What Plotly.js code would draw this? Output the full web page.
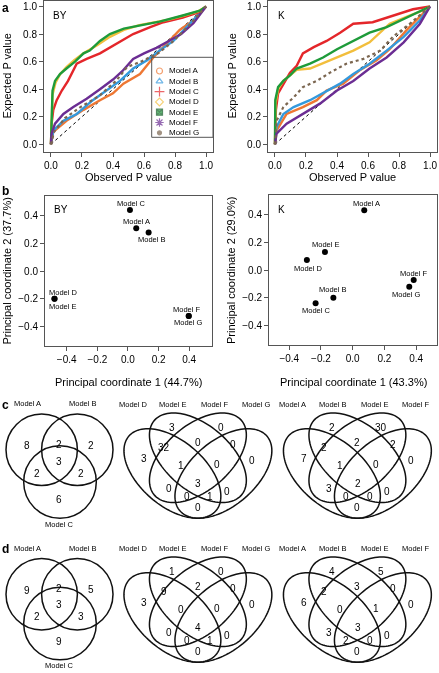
<!DOCTYPE html>
<html><head><meta charset="utf-8">
<script src="https://cdn.plot.ly/plotly-3.0.1.min.js"></script>
<style>body{margin:0;background:#fff}#chart{width:439px;height:673px}
#chart .main-svg{will-change:transform}</style>
</head><body><div id="chart"></div>
<script>
// ---------- DATA ----------
const models = ['Model A','Model B','Model C','Model D','Model E','Model F','Model G'];
const modelColors = ['#EE7733','#3399DD','#E4262A','#F2BE3C','#1E9B3A','#6B2D93','#7B6650'];
const modelSymbols = ['circle-open','triangle-up-open','cross-thin-open','diamond-open','square-x','asterisk-open','circle'];

// panel a, BY: observed / expected P values
const byObsA = [0, 0.015, 0.10, 0.21, 0.316, 0.40, 0.467, 0.574, 0.66, 0.746, 0.83, 0.92, 1.0];
const byExpA = [0, 0.09, 0.17, 0.25, 0.32, 0.37, 0.44, 0.51, 0.63, 0.73, 0.83, 0.90, 1.0];
const byObsB = [0, 0.015, 0.08, 0.166, 0.27, 0.36, 0.445, 0.53, 0.62, 0.70, 0.79, 0.875, 1.0];
const byExpB = [0, 0.10, 0.17, 0.22, 0.32, 0.39, 0.46, 0.55, 0.61, 0.68, 0.75, 0.85, 1.0];
const byObsC = [0, 0.004, 0.015, 0.037, 0.07, 0.11, 0.166, 0.23, 0.316, 0.42, 0.53, 0.64, 0.725, 0.85, 0.96, 1.0];
const byExpC = [0, 0.15, 0.25, 0.32, 0.39, 0.46, 0.585, 0.62, 0.66, 0.73, 0.80, 0.85, 0.886, 0.92, 0.96, 1.0];
const byObsD = [0, 0.004, 0.01, 0.03, 0.06, 0.10, 0.15, 0.21, 0.30, 0.38, 0.47, 0.57, 0.66, 0.76, 0.86, 0.95, 1.0];
const byExpD = [0, 0.22, 0.36, 0.45, 0.51, 0.56, 0.61, 0.66, 0.72, 0.78, 0.83, 0.865, 0.885, 0.905, 0.935, 0.965, 1.0];
const byObsE = [0, 0.002, 0.004, 0.01, 0.026, 0.058, 0.10, 0.155, 0.21, 0.25, 0.316, 0.38, 0.47, 0.57, 0.70, 0.85, 0.96, 1.0];
const byExpE = [0, 0.15, 0.25, 0.39, 0.46, 0.51, 0.55, 0.60, 0.66, 0.68, 0.75, 0.80, 0.84, 0.86, 0.89, 0.935, 0.97, 1.0];
const byObsF = [0, 0.004, 0.026, 0.08, 0.144, 0.23, 0.316, 0.40, 0.46, 0.53, 0.60, 0.68, 0.76, 0.84, 0.92, 1.0];
const byExpF = [0, 0.077, 0.15, 0.22, 0.27, 0.33, 0.40, 0.47, 0.53, 0.62, 0.66, 0.70, 0.75, 0.80, 0.88, 1.0];
const byObsG = [0, 0.02, 0.09, 0.19, 0.31, 0.42, 0.49, 0.58, 0.69, 0.78, 0.88, 1.0];
const byExpG = [0, 0.09, 0.19, 0.27, 0.35, 0.46, 0.56, 0.60, 0.66, 0.74, 0.85, 1.0];

// panel a, K
const kObsA = [0, 0.01, 0.075, 0.18, 0.27, 0.333, 0.44, 0.55, 0.656, 0.74, 0.85, 1.0];
const kExpA = [0, 0.10, 0.22, 0.27, 0.32, 0.39, 0.44, 0.54, 0.61, 0.69, 0.83, 1.0];
const kObsB = [0, 0.01, 0.054, 0.12, 0.226, 0.31, 0.42, 0.505, 0.61, 0.72, 0.83, 0.935, 1.0];
const kExpB = [0, 0.125, 0.22, 0.27, 0.32, 0.37, 0.44, 0.51, 0.585, 0.68, 0.78, 0.90, 1.0];
const kObsC = [0, 0.006, 0.02, 0.054, 0.097, 0.14, 0.18, 0.25, 0.333, 0.42, 0.505, 0.63, 0.76, 0.89, 1.0];
const kExpC = [0, 0.25, 0.37, 0.44, 0.52, 0.57, 0.66, 0.705, 0.75, 0.81, 0.875, 0.886, 0.935, 0.98, 1.0];
const kObsD = [0, 0.004, 0.02, 0.054, 0.097, 0.14, 0.226, 0.355, 0.505, 0.61, 0.74, 0.86, 0.95, 1.0];
const kExpD = [0, 0.30, 0.40, 0.46, 0.50, 0.54, 0.55, 0.61, 0.68, 0.74, 0.875, 0.93, 0.97, 1.0];
const kObsE = [0, 0.002, 0.02, 0.054, 0.097, 0.14, 0.226, 0.31, 0.40, 0.505, 0.61, 0.72, 0.83, 0.935, 1.0];
const kExpE = [0, 0.32, 0.415, 0.46, 0.50, 0.55, 0.585, 0.63, 0.69, 0.75, 0.81, 0.85, 0.91, 0.97, 1.0];
const kObsF = [0, 0.01, 0.075, 0.18, 0.29, 0.40, 0.505, 0.61, 0.72, 0.83, 0.935, 1.0];
const kExpF = [0, 0.077, 0.15, 0.22, 0.295, 0.39, 0.46, 0.55, 0.63, 0.74, 0.875, 1.0];
const kObsG = [0, 0.01, 0.054, 0.12, 0.18, 0.27, 0.355, 0.46, 0.57, 0.68, 0.76, 0.87, 1.0];
const kExpG = [0, 0.17, 0.27, 0.34, 0.415, 0.46, 0.52, 0.585, 0.62, 0.68, 0.78, 0.875, 1.0];

const pTicks = [0, 0.2, 0.4, 0.6, 0.8, 1.0];
const pTickText = ['0.0','0.2','0.4','0.6','0.8','1.0'];

// panel b, principal coordinates
const pcByX = [0.054, 0.135, 0.013, -0.48, -0.48, 0.397, 0.397];
const pcByY = [0.307, 0.278, 0.44, -0.199, -0.199, -0.324, -0.324];
const pcKX = [0.073, -0.122, -0.234, -0.289, -0.175, 0.385, 0.357];
const pcKY = [0.43, -0.199, -0.24, 0.072, 0.13, -0.072, -0.12];
const pcTicks = [-0.4, -0.2, 0, 0.2, 0.4];
const pcTickText = ['\u22120.4','\u22120.2','0.0','0.2','0.4'];

// panels c, d: Venn counts
const vennSetsABC = ['Model A','Model B','Model C'];
const vennSetsDEFG = ['Model D','Model E','Model F','Model G'];
const vennSetsABEF = ['Model A','Model B','Model E','Model F'];
// 3-set order: A only, A&B, B only, A&B&C, A&C, B&C, C only
const vennC3 = [8, 2, 2, 3, 2, 2, 6];
const vennD3 = [9, 2, 5, 3, 2, 3, 9];
// 4-set region order (sets 1..4 left to right): 1, 2, 3, 4, 12, 23, 34, 123, 234, 1234, lower pieces, bottom
const vennC_DEFG = [3, 3, 0, 0, 32, 0, 0, 1, 0, 3, 0, 0, 0, 1, 0];
const vennC_ABEF = [7, 2, 30, 0, 2, 2, 2, 1, 0, 2, 3, 0, 0, 0, 0];
const vennD_DEFG = [3, 1, 0, 0, 9, 2, 0, 0, 0, 4, 0, 0, 0, 1, 0];
const vennD_ABEF = [6, 4, 5, 0, 2, 3, 0, 0, 1, 3, 3, 0, 2, 0, 0];

// ---------- LAYOUT HELPERS ----------
const W = 439, H = 673;
const PX = p => p / W;
const PY = p => 1 - p / H;
const FONT = 'Liberation Sans, Arial, Helvetica, sans-serif';
const INK = '#000';

const byObs = [byObsA, byObsB, byObsC, byObsD, byObsE, byObsF, byObsG];
const byExp = [byExpA, byExpB, byExpC, byExpD, byExpE, byExpF, byExpG];
const kObs = [kObsA, kObsB, kObsC, kObsD, kObsE, kObsF, kObsG];
const kExp = [kExpA, kExpB, kExpC, kExpD, kExpE, kExpF, kExpG];

const traces = [];
function addQQ(obs, exp, xa, ya) {
  const lo = pTicks[0], hi = pTicks[pTicks.length - 1];
  traces.push({x: [lo, hi], y: [lo, hi], xaxis: xa, yaxis: ya, mode: 'lines',
    line: {color: '#000', width: 1, dash: 'dot'}, showlegend: false, hoverinfo: 'skip'});
  for (let i = 0; i < models.length; i++) {
    traces.push({x: obs[i], y: exp[i], xaxis: xa, yaxis: ya, mode: 'lines', name: models[i],
      line: {color: modelColors[i], width: i === 6 ? 2.2 : 2.4, dash: i === 6 ? 'dot' : 'solid'},
      showlegend: false});
  }
}
addQQ(byObs, byExp, 'x', 'y');
addQQ(kObs, kExp, 'x2', 'y2');

traces.push({x: pcByX, y: pcByY, xaxis: 'x3', yaxis: 'y3', mode: 'markers', text: models,
  marker: {color: '#000', size: 6}, showlegend: false});
traces.push({x: pcKX, y: pcKY, xaxis: 'x4', yaxis: 'y4', mode: 'markers', text: models,
  marker: {color: '#000', size: 6}, showlegend: false});

// manual legend markers (axis x5/y5 in pixel units)
const legTop = 71, legStep = 10.3, legMarkX = 159.5, legTextX = 167.5;
traces.push({x: models.map(() => legMarkX), y: models.map((m, i) => legTop + legStep * i),
  xaxis: 'x5', yaxis: 'y5', mode: 'markers', showlegend: false, hoverinfo: 'skip',
  marker: {symbol: modelSymbols, color: modelColors, size: [6, 6, 7, 6, 6, 7, 4],
    line: {color: modelColors.map((c, i) => i === 4 ? '#0d5a20' : c), width: 1.2}}});

function axis(dom, range, ticks, text) {
  return {domain: dom, range: range, tickvals: ticks, ticktext: text, showline: true, mirror: true,
    linecolor: '#555', linewidth: 1, ticks: 'outside', ticklen: 4, tickcolor: '#555', tickwidth: 1,
    tickfont: {size: 10, color: INK, family: FONT}, showgrid: false, zeroline: false, fixedrange: true,
    automargin: false};
}
const aTop = 1, aBot = 152, bTop = 196, bBot = 346;
const layout = {
  width: W, height: H, margin: {l: 0, r: 0, t: 0, b: 0},
  paper_bgcolor: '#fff', plot_bgcolor: 'rgba(0,0,0,0)', showlegend: false,
  font: {family: FONT, color: INK},
  xaxis: Object.assign(axis([PX(44), PX(213)], [-0.045, 1.045], pTicks, pTickText), {anchor: 'y'}),
  yaxis: Object.assign(axis([PY(aBot), PY(aTop)], [-0.056, 1.04], pTicks, pTickText), {anchor: 'x'}),
  xaxis2: Object.assign(axis([PX(268), PX(437)], [-0.045, 1.045], pTicks, pTickText), {anchor: 'y2'}),
  yaxis2: Object.assign(axis([PY(aBot), PY(aTop)], [-0.056, 1.04], pTicks, pTickText), {anchor: 'x2'}),
  xaxis3: Object.assign(axis([PX(45), PX(212)], [-0.542, 0.549], pcTicks, pcTickText), {anchor: 'y3'}),
  yaxis3: Object.assign(axis([PY(bBot), PY(bTop)], [-0.54, 0.54], pcTicks, pcTickText), {anchor: 'x3'}),
  xaxis4: Object.assign(axis([PX(269), PX(437)], [-0.528, 0.532], pcTicks, pcTickText), {anchor: 'y4'}),
  yaxis4: Object.assign(axis([PY(bBot - 1), PY(bTop - 1)], [-0.54, 0.54], pcTicks, pcTickText), {anchor: 'x4'}),
  xaxis5: {domain: [PX(150), PX(213)], range: [150, 213], visible: false, fixedrange: true, anchor: 'y5'},
  yaxis5: {domain: [PY(137), PY(57)], range: [137, 57], visible: false, fixedrange: true, anchor: 'x5'},
  shapes: [], annotations: []
};

const ann = layout.annotations, shp = layout.shapes;
function txt(x, y, t, size, extra) {
  ann.push(Object.assign({x: PX(x), y: PY(y), xref: 'paper', yref: 'paper', text: t, showarrow: false,
    font: {size: size, color: INK, family: FONT}, xanchor: 'center', yanchor: 'middle', borderpad: 0},
    extra || {}));
}
// panel letters
txt(1, 8, '<b>a</b>', 12, {xanchor: 'left'});
txt(1, 191, '<b>b</b>', 12, {xanchor: 'left'});
txt(1, 405, '<b>c</b>', 12, {xanchor: 'left'});
txt(1, 549, '<b>d</b>', 12, {xanchor: 'left'});
// axis titles
txt(128.5, 177, 'Observed P value', 11);
txt(352.5, 177, 'Observed P value', 11);
txt(6.5, 76, 'Expected P value', 11, {textangle: -90});
txt(231.5, 76, 'Expected P value', 11, {textangle: -90});
txt(128.5, 382, 'Principal coordinate 1 (44.7%)', 11);
txt(353, 382, 'Principal coordinate 1 (43.3%)', 11);
txt(6.5, 271, 'Principal coordinate 2 (37.7%)', 11, {textangle: -90});
txt(231, 271, 'Principal coordinate 2 (29.0%)', 11, {textangle: -90});
// panel tags
txt(52, 15, 'BY', 10, {xanchor: 'left'});
txt(277, 15, 'K', 10, {xanchor: 'left'});
txt(53, 209.5, 'BY', 10, {xanchor: 'left'});
txt(277, 209.5, 'K', 10, {xanchor: 'left'});

// legend box + texts
shp.push({type: 'rect', xref: 'paper', yref: 'paper', x0: PX(151.7), x1: PX(213), y0: PY(137.3), y1: PY(57.3),
  line: {color: '#555', width: 1}});
models.forEach((m, i) => txt(legTextX, legTop + legStep * i, m, 8, {xanchor: 'left'}));

// PCoA labels
const byLab = [[0, -6.7], [3, 7], [1.7, -6.7], [9, -6], [8.4, 8], [-2, -7], [0, 6.7]];
const kLab = [[2.4, -7], [0, -7.7], [1, 6.7], [1.3, 8.3], [1, -7], [0.6, -7], [-2.6, 7.6]];
models.forEach((m, i) => {
  ann.push({x: pcByX[i], y: pcByY[i], xref: 'x3', yref: 'y3', text: m, showarrow: false, borderpad: 0,
    xshift: byLab[i][0], yshift: -byLab[i][1], font: {size: 7.5, color: INK, family: FONT}});
  ann.push({x: pcKX[i], y: pcKY[i], xref: 'x4', yref: 'y4', text: m, showarrow: false, borderpad: 0,
    xshift: kLab[i][0], yshift: -kLab[i][1], font: {size: 7.5, color: INK, family: FONT}});
});

// ---------- VENN 3 ----------
const venn3Pos = [[26.7, 445.7], [59.3, 444.3], [90.7, 445], [59.3, 461.7], [37.3, 473.3], [81, 473.3], [59.3, 499]];
function venn3(counts, dy, cdy) {
  const circ = [[41.7, 449.7 + dy, 35.7], [77.3, 449.7 + dy, 35.7], [60, 482 + dy + cdy, 36.3]];
  circ.forEach(c => shp.push({type: 'circle', xref: 'paper', yref: 'paper',
    x0: PX(c[0] - c[2]), x1: PX(c[0] + c[2]), y0: PY(c[1] + c[2]), y1: PY(c[1] - c[2]),
    line: {color: '#111', width: 1.5}}));
  counts.forEach((v, i) => txt(venn3Pos[i][0], venn3Pos[i][1] + dy + (i >= 3 ? cdy * 0.6 : 0), String(v), 10));
  txt(27, 403.5 + dy, vennSetsABC[0], 7.5);
  txt(83.3, 403.5 + dy, vennSetsABC[1], 7.5);
  txt(59.3, 524.3 + dy + cdy, vennSetsABC[2], 7.5);
}
venn3(vennC3, 0, 0);
venn3(vennD3, 144.5, -3);

// ---------- VENN 4 (ellipses) ----------
const QA = 0.35, QB = 0.2, QSX = 170, QSY = 157;
const quad = [{cx: 0.35, cy: 0.47, rot: 135}, {cx: 0.5, cy: 0.57, rot: 135},
              {cx: 0.5, cy: 0.57, rot: 45}, {cx: 0.65, cy: 0.47, rot: 45}];
const venn4Pos = [[144.3, 458], [172.3, 427.3], [221, 427.3], [251.7, 460.7], [164.3, 447.3], [197.7, 442.3],
  [233.3, 444.7], [180.7, 465.7], [216.7, 464.7], [198.3, 483], [169.3, 488], [227.3, 491.3],
  [186.7, 496.3], [210, 496.3], [197.7, 507.3]];
const venn4LabX = [133.3, 173.3, 215, 256.7];
function venn4(counts, sets, dx, dy) {
  const ox = 112.9 + dx, oy = 413 + dy;
  quad.forEach(e => {
    const th = e.rot * Math.PI / 180, pts = [];
    for (let k = 0; k <= 120; k++) {
      const t = 2 * Math.PI * k / 120;
      const X = e.cx + QA * Math.cos(t) * Math.cos(th) - QB * Math.sin(t) * Math.sin(th);
      const Y = e.cy + QA * Math.cos(t) * Math.sin(th) + QB * Math.sin(t) * Math.cos(th);
      pts.push(PX(ox + X * QSX).toFixed(5) + ',' + PY(oy + (0.855 - Y) * QSY).toFixed(5));
    }
    shp.push({type: 'path', xref: 'paper', yref: 'paper', path: 'M' + pts.join('L') + 'Z',
      line: {color: '#111', width: 1.5}});
  });
  counts.forEach((v, i) => txt(venn4Pos[i][0] + dx, venn4Pos[i][1] + dy, String(v), 10));
  sets.forEach((s, i) => txt(venn4LabX[i] + dx, 404 + dy, s, 7.5));
}
venn4(vennC_DEFG, vennSetsDEFG, 0, 0);
venn4(vennC_ABEF, vennSetsABEF, 159.5, 0);
venn4(vennD_DEFG, vennSetsDEFG, 0, 144);
venn4(vennD_ABEF, vennSetsABEF, 159.5, 144);

Plotly.newPlot('chart', traces, layout, {displayModeBar: false, staticPlot: true});
</script>
</body></html>
